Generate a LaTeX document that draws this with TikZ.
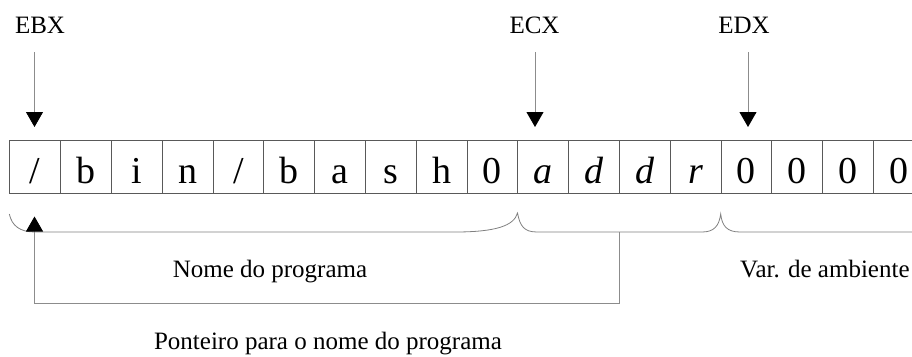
\documentclass[tikz,border=0pt]{standalone}
\usepackage{fontspec}
\setmainfont{Liberation Serif}
\usetikzlibrary{arrows.meta,calc}
\begin{document}
\begin{tikzpicture}[x=1pt,y=-1pt,
  cell/.style={draw=black!65,line width=0.8pt,minimum width=50.8pt,minimum height=52.7pt,inner sep=0pt,anchor=north west,text height=34pt,text depth=1.3pt,font=\fontsize{38}{42}\selectfont},
  reglabel/.style={anchor=base,inner sep=0pt,font=\fontsize{25}{30}\selectfont},
  txt/.style={anchor=base,inner sep=0pt,font=\fontsize{25}{30}\selectfont},
  ptr/.style={draw=black!45,line width=0.8pt,-{Triangle[width=17pt,length=15pt,black]}},
  bracel/.style={draw=black!50,line width=0.8pt}]
\useasboundingbox (0,0) rectangle (912,356);
\foreach \ch [count=\i from 0] in {/,b,i,n,/,b,a,s,h,0,\textit{a},\textit{d},\textit{d},\textit{r},0,0,0,0}{
  \node[cell] (c\i) at ({9.3+50.8*\i},140) {\ch};
}
% register labels
\node[reglabel] (ebx) at (40,33) {EBX};
\node[reglabel] (ecx) at (534.5,33) {ECX};
\node[reglabel] (edx) at (744,33) {EDX};
\coordinate (ebxs) at (34.5,52);
\coordinate (ecxs) at (535,52);
\coordinate (edxs) at (748,52);
\coordinate (ebxt) at (34.5,127);
\coordinate (ecxt) at (535,127);
\coordinate (edxt) at (748,127);
\draw[ptr] (ebxs) -- (ebxt);
\draw[ptr] (ecxs) -- (ecxt);
\draw[ptr] (edxs) -- (edxt);
% braces
\draw[bracel] (9.3,214) .. controls (12,226) and (20,232) .. (35,232)
  -- (455,232) .. controls (495,232) and (514,226) .. (517.5,213)
  .. controls (520,226) and (524,232) .. (537,232)
  -- (702,232) .. controls (714,232) and (719,226) .. (720.7,214)
  .. controls (722,226) and (727,232) .. (740,232)
  -- (912,232);
% pointer connector
\coordinate (cstart) at (619,232);
\coordinate (ccorner1) at (619,303);
\coordinate (ccorner2) at (34.5,303);
\coordinate (cend) at (34.5,216.5);
\draw[ptr] (cstart) -- (ccorner1) -- (ccorner2) -- (cend);
% texts
\node[txt] (nome) at (270,277) {Nome do programa};
\node[txt,anchor=base west] (var) at (740,277) {Var. de ambiente};
\node[txt] (pont) at (328,349) {Ponteiro para o nome do programa};
\end{tikzpicture}
\end{document}
